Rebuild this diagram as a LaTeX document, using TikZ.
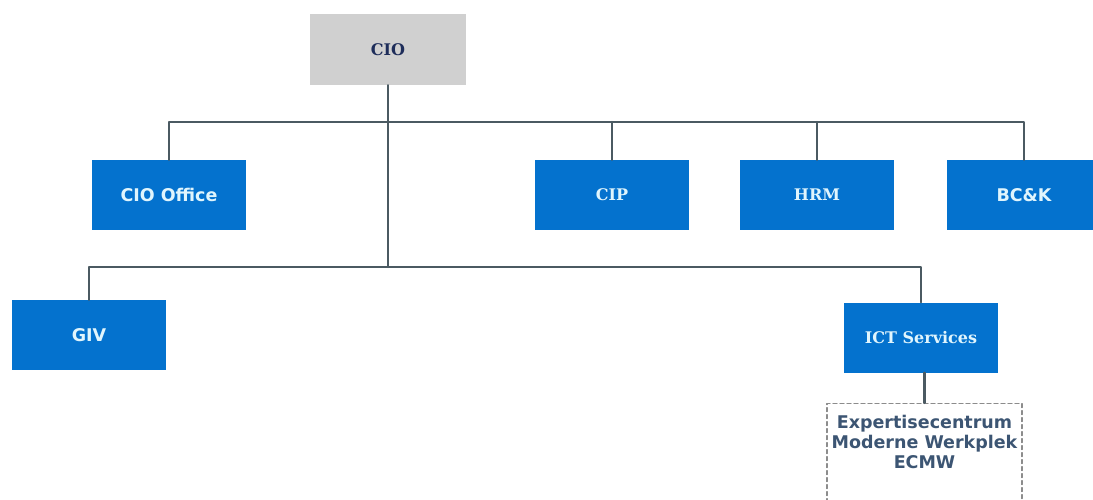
\documentclass[tikz,border=0pt]{standalone}
\usepackage{fontspec}
\setmainfont{DejaVu Sans}
\newfontfamily\unitserif{DejaVu Serif}
\usepackage{xcolor}
\usetikzlibrary{positioning}

\definecolor{unitblue}{RGB}{4,114,206}
\definecolor{ciogray}{RGB}{208,208,208}
\definecolor{navytext}{RGB}{30,45,90}
\definecolor{ecmwtext}{RGB}{60,85,115}
\definecolor{linegray}{RGB}{75,90,98}
\definecolor{dashgray}{RGB}{140,140,140}

\begin{document}
\begin{tikzpicture}[x=1pt,y=-1pt,line cap=round,line join=round,
  unit/.style={fill=unitblue,draw=none,minimum width=154pt,minimum height=70pt,
    inner sep=0pt,text=white!88!cyan,font=\fontsize{17.5}{20}\selectfont\bfseries},
  serifunit/.style={unit,font=\unitserif\fontsize{16}{20}\selectfont\bfseries},
  topunit/.style={serifunit,fill=ciogray,minimum width=156pt,minimum height=71pt,text=navytext},
  orgline/.style={draw=linegray,line width=2.2pt},
  ecmwframe/.style={draw=dashgray,line width=1.2pt,dash pattern=on 4pt off 3pt,
    minimum width=195pt,minimum height=110pt,inner sep=0pt},
  ecmwlabel/.style={align=center,text=ecmwtext,inner sep=0pt,
    font=\fontsize{17.5}{20}\selectfont\bfseries}]
\clip (0,0) rectangle (1093,500);
\fill[white] (0,0) rectangle (1093,500);

% units
\node[topunit] (cio) at (388,49.5) {CIO};
\node[unit] (ciooffice) at (169,195) {CIO Office};
\node[serifunit] (cip) at (612,195) {CIP};
\node[serifunit] (hrm) at (817,195) {HRM};
\node[unit] (bck) at (1024,195) {BC\&K};
\node[unit] (giv) at (89,335) {GIV};
\node[serifunit] (ict) at (921,337.5) {ICT Services};
\node[ecmwframe,anchor=north] (ecmw) at (924.5,403) {};
\node[ecmwlabel,anchor=north] (ecmwtxt) at (924.5,415) {Expertisecentrum\\Moderne Werkplek\\ECMW};

% bars
\coordinate (topbar) at (388,122);
\coordinate (lowbar) at (388,267);

\draw[orgline] (cio.south) -- (lowbar);
\draw[orgline] (ciooffice.north) |- (topbar) -| (bck.north);
\draw[orgline] (cip.north) -- (cip.north |- topbar);
\draw[orgline] (hrm.north) -- (hrm.north |- topbar);
\draw[orgline] (giv.north) |- (lowbar) -| (ict.north);
\draw[orgline] (ecmw.north |- ict.south) -- (ecmw.north);
\end{tikzpicture}
\end{document}
